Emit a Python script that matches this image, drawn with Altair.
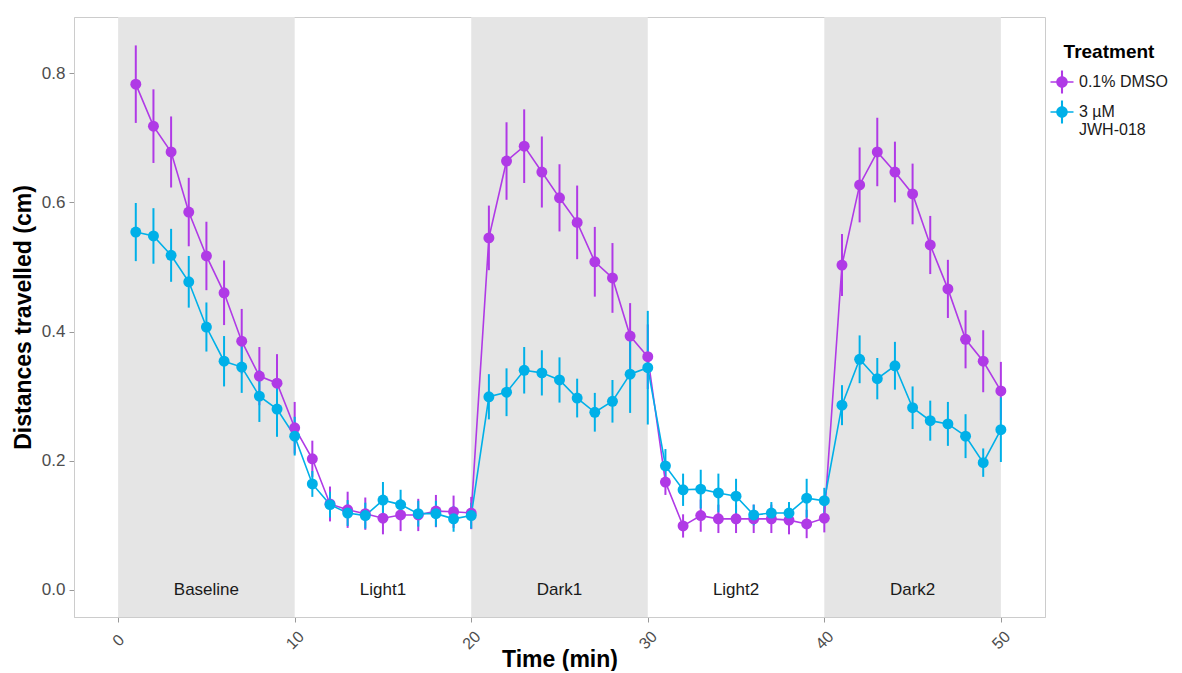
import altair as alt
import pandas as pd

minutes = list(range(1, 51))

dmso_mean = [0.783, 0.718, 0.678, 0.585, 0.517, 0.460, 0.385, 0.331, 0.320, 0.251,
             0.203, 0.133, 0.124, 0.118, 0.111, 0.116, 0.116, 0.122, 0.121, 0.119,
             0.545, 0.664, 0.687, 0.647, 0.607, 0.569, 0.508, 0.483, 0.393, 0.361,
             0.167, 0.099, 0.115, 0.110, 0.110, 0.110, 0.110, 0.108, 0.102, 0.111,
             0.503, 0.627, 0.678, 0.647, 0.613, 0.534, 0.466, 0.388, 0.354, 0.308]
dmso_se = [0.060, 0.057, 0.055, 0.053, 0.053, 0.050, 0.050, 0.045, 0.045, 0.040,
           0.028, 0.027, 0.028, 0.025, 0.025, 0.025, 0.025, 0.025, 0.025, 0.025,
           0.050, 0.060, 0.057, 0.055, 0.052, 0.057, 0.054, 0.054, 0.051, 0.050,
           0.020, 0.018, 0.025, 0.022, 0.022, 0.022, 0.022, 0.022, 0.022, 0.022,
           0.048, 0.058, 0.053, 0.047, 0.047, 0.045, 0.045, 0.045, 0.048, 0.045]

jwh_mean = [0.554, 0.548, 0.518, 0.477, 0.407, 0.354, 0.345, 0.300, 0.280, 0.238,
            0.164, 0.132, 0.119, 0.115, 0.139, 0.132, 0.118, 0.118, 0.110, 0.115,
            0.299, 0.306, 0.340, 0.336, 0.325, 0.297, 0.275, 0.292, 0.334, 0.344,
            0.192, 0.155, 0.156, 0.150, 0.145, 0.116, 0.119, 0.119, 0.142, 0.138,
            0.286, 0.357, 0.327, 0.347, 0.282, 0.262, 0.257, 0.238, 0.197, 0.248]
jwh_se = [0.045, 0.043, 0.041, 0.040, 0.038, 0.039, 0.040, 0.040, 0.043, 0.030,
          0.020, 0.020, 0.020, 0.020, 0.028, 0.023, 0.020, 0.020, 0.020, 0.020,
          0.035, 0.037, 0.036, 0.035, 0.035, 0.030, 0.030, 0.033, 0.060, 0.088,
          0.026, 0.025, 0.030, 0.030, 0.027, 0.016, 0.017, 0.017, 0.030, 0.020,
          0.031, 0.037, 0.032, 0.037, 0.033, 0.031, 0.034, 0.034, 0.022, 0.050]

treatments = ["0.1% DMSO", "3 µM JWH-018"]
colors = ["#B03AE6", "#00B0E8"]

period_names = ["Baseline", "Light1", "Dark1", "Light2", "Dark2"]
period_start = [0, 10, 20, 30, 40]
period_end = [10, 20, 30, 40, 50]
period_shaded = [True, False, True, False, True]

rows = []
for t, means, ses in [(treatments[0], dmso_mean, dmso_se), (treatments[1], jwh_mean, jwh_se)]:
    for m, v, s in zip(minutes, means, ses):
        rows.append({"Time": m, "Treatment": t, "mean": v, "lo": v - s, "hi": v + s})
df = pd.DataFrame(rows)

periods = pd.DataFrame({
    "name": period_names, "start": period_start, "end": period_end,
    "mid": [(a + b) / 2 for a, b in zip(period_start, period_end)],
    "shaded": period_shaded, "yl": [0.0] * 5,
})

W, H = 971, 600
xscale = alt.Scale(domain=[-2.5, 52.5], nice=False, zero=False)
yscale = alt.Scale(domain=[-0.042, 0.887], nice=False, zero=False)
cscale = alt.Scale(domain=treatments, range=colors)

legend_path = ("M0.5,0 A0.5,0.5 0 1,1 -0.5,0 A0.5,0.5 0 1,1 0.5,0 Z "
               "M-0.09,-1 L0.09,-1 L0.09,1 L-0.09,1 Z "
               "M-1,-0.07 L1,-0.07 L1,0.07 L-1,0.07 Z")

color_enc = alt.Color(
    "Treatment:N", scale=cscale,
    legend=alt.Legend(title="Treatment", symbolType=legend_path, symbolSize=530,
                      symbolStrokeWidth=0, symbolOpacity=1,
                      labelExpr="datum.label == '3 µM JWH-018' ? ['3 µM', 'JWH-018'] : datum.label",
                      orient="none", legendX=976, legendY=26, titleAnchor="middle",
                      rowPadding=6, titlePadding=8, labelOffset=5),
)

shade = alt.Chart(periods).transform_filter("datum.shaded").mark_rect(color="#E5E5E5").encode(
    x=alt.X("start:Q", scale=xscale),
    x2="end:Q",
    y=alt.value(0),
    y2=alt.value(H),
)

labels = alt.Chart(periods).mark_text(font="Liberation Sans", fontSize=17, color="#1a1a1a").encode(
    x=alt.X("mid:Q", scale=xscale),
    y=alt.Y("yl:Q", scale=yscale),
    text="name:N",
)

base = alt.Chart(df)

err = base.mark_rule(strokeWidth=2).encode(
    x=alt.X("Time:Q", scale=xscale),
    y=alt.Y("lo:Q", scale=yscale),
    y2="hi:Q",
    color=color_enc,
)

lines = base.mark_line(strokeWidth=1.6).encode(
    x=alt.X("Time:Q", scale=xscale),
    y=alt.Y("mean:Q", scale=yscale),
    color=color_enc,
    detail="Treatment:N",
)

points = base.mark_point(filled=True, opacity=1, size=120).encode(
    x=alt.X("Time:Q", scale=xscale,
            axis=alt.Axis(title="Time (min)", values=[0, 10, 20, 30, 40, 50], labelAngle=315,
                          labelAlign="center", labelBaseline="middle", labelPadding=18,
                          labelFontSize=16, grid=False,
                          titleBaseline="alphabetic", titleY=49)),
    y=alt.Y("mean:Q", scale=yscale,
            axis=alt.Axis(title="Distances travelled (cm)", values=[0, 0.2, 0.4, 0.6, 0.8],
                          format=".1f", grid=False, titlePadding=6)),
    color=color_enc,
)

chart = alt.layer(shade, labels, err, lines, points).properties(
    width=W, height=H,
    padding={"top": 9, "left": 4, "right": 0, "bottom": 0},
).configure_view(
    stroke="#CCCCCC", strokeWidth=1
).configure_axis(
    labelFont="Liberation Sans", titleFont="Liberation Sans",
    labelFontSize=17, labelColor="#4D4D4D",
    titleFontSize=23, titleFontWeight="bold", titleColor="#000000",
    domainColor="#CCCCCC", tickColor="#999999", tickSize=5,
    labelPadding=4,
).configure_legend(
    titleFont="Liberation Sans", labelFont="Liberation Sans",
    titleFontSize=19, titleFontWeight="bold", titleColor="#000000",
    labelFontSize=16, labelColor="#1a1a1a",
)

chart.save("out.html", embed_options={"renderer": "svg", "actions": False})
